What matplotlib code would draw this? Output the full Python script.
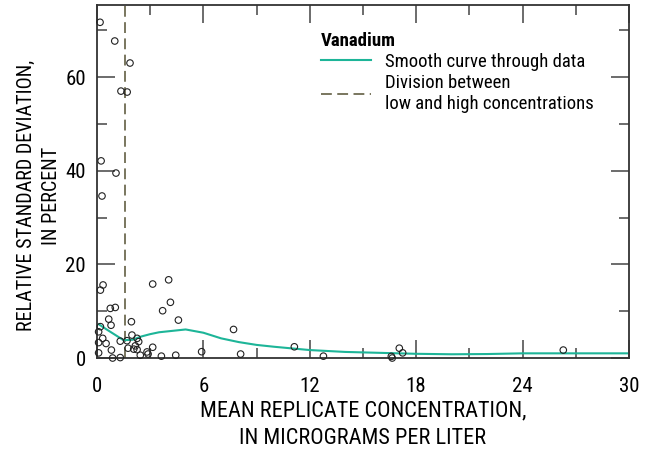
import matplotlib
matplotlib.use("Agg")
import matplotlib.pyplot as plt
from matplotlib.ticker import MultipleLocator

plt.rcParams['font.family'] = ['Roboto Condensed', 'Roboto', 'DejaVu Sans']

# replicate data: mean concentration (ug/L) vs relative standard deviation (%)
conc = [0.17, 1.0, 1.86, 1.35, 1.7, 0.23, 1.07, 0.28,
        0.34, 0.19, 3.14, 4.04, 4.14, 3.7, 4.59, 7.7,
        0.75, 1.03, 0.66, 0.79, 1.94, 0.19, 0.09, 0.32, 0.51, 0.09,
        1.31, 1.69, 1.97, 2.26, 2.35, 1.75, 2.07, 2.26, 2.16, 0.81,
        0.09, 2.44, 2.82, 2.88, 3.14, 3.63, 0.88, 1.31,
        4.44, 5.9, 8.1, 11.13, 12.77, 16.6, 16.65, 17.05, 17.24, 26.3]
rsd = [71.7, 67.7, 63.0, 57.0, 56.8, 42.1, 39.5, 34.6,
       15.6, 14.5, 15.8, 16.7, 11.9, 10.1, 8.1, 6.1,
       10.6, 10.8, 8.3, 7.0, 7.75, 6.7, 5.6, 4.2, 3.1, 3.3,
       3.6, 3.7, 4.9, 4.2, 3.5, 2.1, 1.9, 1.8, 2.6, 1.7,
       1.1, 0.6, 1.3, 0.85, 2.3, 0.4, 0.0, 0.1,
       0.6, 1.35, 0.85, 2.4, 0.4, 0.35, 0.0, 2.1, 1.1, 1.7]

# smooth curve through data
curve_x = [0.1, 0.5, 1.0, 1.5, 2.0, 2.5, 3.0, 3.5, 4.0, 5.0, 6.0, 7.0, 8.0, 9.0,
           10, 12, 14, 16, 18, 20, 22, 24, 26, 28, 30]
curve_y = [7.2, 6.2, 5.0, 3.8, 3.9, 4.6, 5.1, 5.5, 5.7, 6.1, 5.4, 4.2, 3.4, 2.8,
           2.4, 1.7, 1.3, 1.1, 0.9, 0.8, 0.85, 1.0, 1.0, 1.0, 1.0]

division = 1.58

x_ticks = [0, 6, 12, 18, 24, 30]
y_ticks = [0, 20, 40, 60]

fig = plt.figure(figsize=(6.49, 4.5), dpi=100)
ax = fig.add_axes([0.1495, 0.2044, 0.8195, 0.7846])

ax.plot(curve_x, curve_y, color='#1db598', lw=1.5, label='Smooth curve through data', zorder=2)
ax.axvline(division, color='#6e6b52', lw=1.3, ls=(0, (6, 3)),
           label='Division between\nlow and high concentrations', zorder=1)
ax.scatter(conc, rsd, s=22, facecolors='none', edgecolors='#222222', linewidths=0.8,
           zorder=3, clip_on=False)

ax.set_xlim(0, 30)
ax.set_ylim(0, 75.4)
ax.set_xticks(x_ticks)
ax.set_yticks(y_ticks)
ax.xaxis.set_minor_locator(MultipleLocator(3))
ax.yaxis.set_minor_locator(MultipleLocator(10))
ax.tick_params(which='both', direction='in', top=True, right=True, labelsize=15,
               color='#444444', width=1.1)
ax.tick_params(axis='x', pad=14)
ax.tick_params(axis='y', pad=8)
ax.tick_params(which='major', length=13)
ax.tick_params(which='minor', length=7)
for s in ax.spines.values():
    s.set_color('#333333')
    s.set_linewidth(1.3)

ax.set_xlabel('MEAN REPLICATE CONCENTRATION,\nIN MICROGRAMS PER LITER', fontsize=16,
              linespacing=1.4, labelpad=3)
ax.set_ylabel('RELATIVE STANDARD DEVIATION,\nIN PERCENT', fontsize=14.5,
              linespacing=1.4, labelpad=3)
ax.yaxis.label.set_y(0.46)

leg = ax.legend(loc='upper left', bbox_to_anchor=(0.396, 0.96), frameon=False,
                title='Vanadium', alignment='left', fontsize=13.5,
                title_fontproperties={'weight': 'bold', 'size': 13.5},
                handlelength=2.7, handletextpad=0.7, labelspacing=0.15, borderpad=0.2)

fig.savefig('out.png', dpi=100)
